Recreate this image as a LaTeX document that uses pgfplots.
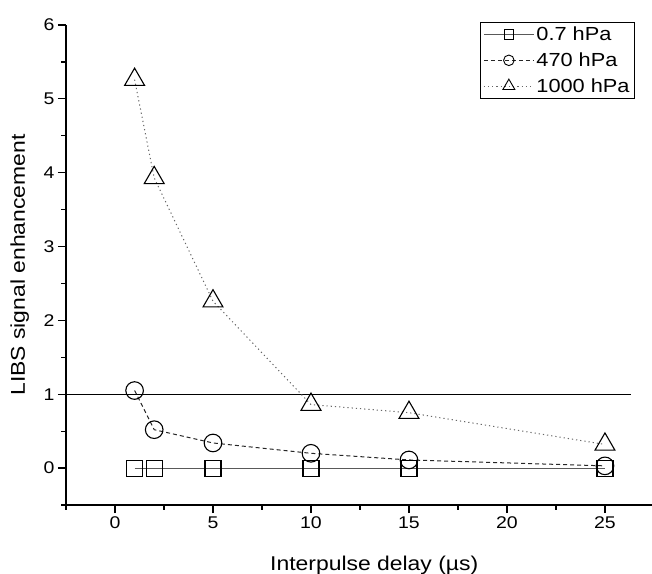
\documentclass[border=0pt]{standalone}
\usepackage{pgfplots}
\pgfplotsset{compat=1.18}
\usepackage{fontspec}
\setmainfont{Liberation Sans}[FakeStretch=1.15]

% enhancement ratios versus interpulse delay, one table per pressure
\pgfplotstableread{
x    y
1    0
2    0
5    0
10   0
15   0
25   0
}\lowp
\pgfplotstableread{
x    y
1    1.05
2    0.52
5    0.34
10   0.20
15   0.11
25   0.03
}\midp
\pgfplotstableread{
x    y
1    5.26
2    3.93
5    2.26
10   0.86
15   0.75
25   0.32
}\highp

\begin{document}
\begin{tikzpicture}
\path[use as bounding box] (-66bp,-69bp) rectangle (586bp,505bp);
\begin{axis}[
  at={(0,0)}, anchor=south west,
  scale only axis, width=586bp, height=480bp,
  xmin=-2.5, xmax=27.4, ymin=-0.5, ymax=6,
  axis lines*=left,
  axis line style={line width=1.3bp},
  tick align=outside,
  xtick={0,5,...,25}, ytick={0,1,...,6},
  minor xtick={-2.5,2.5,7.5,12.5,17.5,22.5},
  minor ytick={-0.5,0.5,1.5,2.5,3.5,4.5,5.5},
  major tick length=8bp, minor tick length=4.5bp,
  every tick/.style={line width=1.3bp, black},
  xticklabel style={font=\fontsize{17}{19}\selectfont},
  yticklabel style={font=\fontsize{17}{19}\selectfont},
  /pgf/number format/assume math mode=true,
  xlabel={Interpulse delay (µs)},
  ylabel={LIBS signal enhancement},
  every axis x label/.style={at={(axis description cs:0.526,-0.1375)}, anchor=base,
    font=\fontsize{20}{22}\selectfont},
  every axis y label/.style={at={(axis description cs:-0.07,0.5)}, rotate=90, anchor=base,
    font=\fontsize{20}{22}\selectfont},
  clip=false,
  legend style={at={(0.971,1.007)}, anchor=north east, draw=black, line width=0.8bp,
    font=\fontsize{19}{21}\selectfont, inner xsep=3bp, inner ysep=3bp, row sep=6.5bp},
  legend cell align=left,
  legend image code/.code={%
    \draw[#1, mark repeat=2, mark phase=2, mark options={scale=0.6, fill=white, solid, black, line width=0.9bp}]
      plot coordinates {(0bp,0bp) (25bp,0bp) (50bp,0bp)};},
]
\addplot[black, line width=1.3bp, forget plot] coordinates {(-2.5,1) (26.35,1)};
\addplot[black!65, line width=1.1bp, mark=square, mark size=8bp,
  mark options={black, fill=white, solid, line width=1.1bp}] table {\lowp};
\addlegendentry{0.7 hPa}
\addplot[black!85, line width=1bp, dash pattern=on 4bp off 3bp, mark=o, mark size=8.8bp,
  mark options={black, fill=white, solid, line width=1.1bp}] table {\midp};
\addlegendentry{470 hPa}
\addplot[black!60, line width=1bp, dash pattern=on 1.2bp off 3bp, mark=triangle, mark size=11.5bp,
  mark options={black, fill=white, solid, line width=1.1bp}] table {\highp};
\addlegendentry{1000 hPa}
\end{axis}
\end{tikzpicture}
\end{document}
